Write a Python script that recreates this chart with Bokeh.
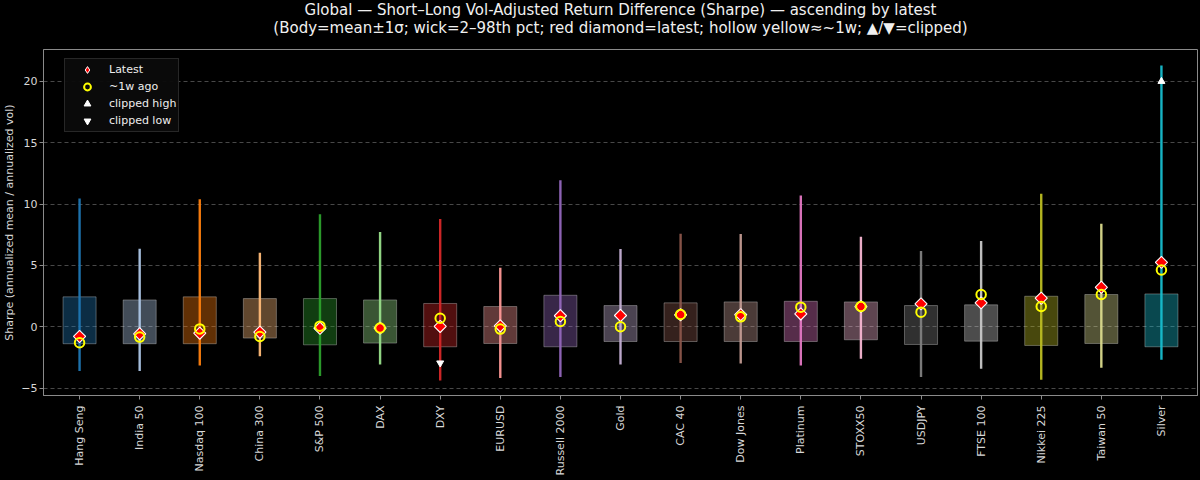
import numpy as np
from bokeh.plotting import figure
from bokeh.models import ColumnDataSource, Range1d, FixedTicker, Title, Legend, LegendItem
from bokeh.embed import file_html
from bokeh.resources import INLINE
from bokeh.core.templates import get_env

# ---------------- data ----------------
names = ["Hang Seng", "India 50", "Nasdaq 100", "China 300", "S&P 500", "DAX", "DXY",
         "EURUSD", "Russell 2000", "Gold", "CAC 40", "Dow Jones", "Platinum", "STOXX50",
         "USDJPY", "FTSE 100", "Nikkei 225", "Taiwan 50", "Silver"]
latest = [-0.79, -0.57, -0.52, -0.44, -0.12, -0.11, 0.03, 0.07, 0.90, 0.92, 0.98, 0.99,
          1.05, 1.65, 1.87, 1.95, 2.33, 3.22, 5.25]
week_ago = [-1.30, -0.84, -0.17, -0.79, 0.05, -0.10, 0.70, -0.19, 0.43, 0.00, 1.00, 0.81,
            1.60, 1.65, 1.19, 2.63, 1.65, 2.63, 4.63]
body_low = [-1.38, -1.38, -1.38, -0.92, -1.47, -1.33, -1.63, -1.36, -1.63, -1.20, -1.20,
            -1.20, -1.20, -1.06, -1.44, -1.17, -1.52, -1.36, -1.63]   # mean - 1 sigma
body_high = [2.44, 2.19, 2.44, 2.30, 2.30, 2.19, 1.90, 1.65, 2.57, 1.73, 1.95, 2.03, 2.08,
             2.03, 1.73, 1.79, 2.49, 2.63, 2.68]                       # mean + 1 sigma
pct2 = [-3.60, -3.60, -3.15, -2.41, -4.01, -3.07, -4.37, -4.18, -4.10, -3.07, -2.96, -3.00,
        -3.15, -2.60, -4.10, -3.42, -4.31, -3.34, -2.69]
pct98 = [10.45, 6.37, 10.40, 6.04, 9.18, 7.72, 8.78, 4.82, 11.95, 6.34, 7.59, 7.56, 10.70,
         7.34, 6.18, 6.99, 10.84, 8.40, 21.30]
clipped_high_names = ["Silver"]
clipped_high_values = [20.0]
clipped_low_names = ["DXY"]
clipped_low_values = [-2.95]
colors = ["#1f77b4", "#aec7e8", "#ff7f0e", "#ffbb78", "#2ca02c", "#98df8a", "#d62728",
          "#ff9896", "#9467bd", "#c5b0d5", "#8c564b", "#c49c94", "#e377c2", "#f7b6d2",
          "#7f7f7f", "#c7c7c7", "#bcbd22", "#dbdb8d", "#17becf"]
y_ticks = [-5, 0, 5, 10, 15, 20]

title_1 = "Global \u2014 Short\u2013Long Vol-Adjusted Return Difference (Sharpe) \u2014 ascending by latest"
title_2 = ("(Body=mean\u00b11\u03c3; wick=2\u201398th pct; red diamond=latest; "
           "hollow yellow\u2248~1w; \u25b2/\u25bc=clipped)")
y_label = "Sharpe (annualized mean / annualized vol)"

FONT = "DejaVu Sans"
TXT = "#d8d8d8"
AX = "#8a8a8a"

xs = np.arange(len(names))
src = ColumnDataSource(dict(x=xs, lo=body_low, hi=body_high, p2=pct2, p98=pct98,
                            latest=latest, week=week_ago, color=colors))

p = figure(width=1200, height=480, output_backend="svg", toolbar_location=None,
           x_range=Range1d(-0.6, len(names) - 0.4), y_range=Range1d(-5.6, 22.6),
           background_fill_color="black", border_fill_color="black",
           min_border_left=0, min_border_right=3, min_border_top=48, min_border_bottom=85)
p.title.text = ""
# spacer panel between the two title lines and the plot frame
p.add_layout(Title(text=" ", text_font=FONT, text_font_size="2px", standoff=9), "above")
for t, so in ((title_2, 0), (title_1, -4)):
    p.add_layout(Title(text=t, align="center", text_font=FONT, text_font_size="15px",
                       text_line_height=1.0, text_font_style="normal",
                       text_color="#f0f0f0", standoff=so, offset=0), "above")

# axes
p.xaxis.ticker = FixedTicker(ticks=[int(i) for i in xs])
p.xaxis.major_label_overrides = {int(i): n for i, n in zip(xs, names)}
p.xaxis.major_label_orientation = np.pi / 2
p.yaxis.ticker = FixedTicker(ticks=y_ticks)
p.yaxis.major_label_overrides = {t: (str(t).replace("-", "\u2212")) for t in y_ticks}
p.yaxis.axis_label = y_label
for ax in (p.xaxis[0], p.yaxis[0]):
    ax.axis_line_color = AX
    ax.major_tick_line_color = AX
    ax.minor_tick_line_color = None
    ax.major_tick_out = 4
    ax.major_tick_in = 0
    ax.major_label_text_color = TXT
    ax.major_label_text_font = FONT
    ax.major_label_text_font_size = "11px"
    ax.major_label_standoff = 2
    ax.axis_label_text_color = TXT
    ax.axis_label_text_font = FONT
    ax.axis_label_text_font_size = "11px"
    ax.axis_label_text_font_style = "normal"
    ax.axis_label_standoff = 2
p.xaxis.major_label_standoff = 6
p.outline_line_color = AX
p.xgrid.grid_line_color = None
p.ygrid.grid_line_color = "#5a5a5a"
p.ygrid.grid_line_dash = "4 3"
p.ygrid.grid_line_width = 0.8

# glyphs
p.vbar(x="x", width=0.55, bottom="lo", top="hi", source=src, fill_color="color",
       fill_alpha=0.38, line_color="#ffffff", line_alpha=0.3, line_width=1)
p.segment(x0="x", y0="p2", x1="x", y1="p98", source=src, line_color="color",
          line_width=2.4, line_alpha=0.95)
hx = [names.index(n) for n in clipped_high_names]
lx = [names.index(n) for n in clipped_low_names]
r_hi = p.scatter(hx, clipped_high_values, marker="triangle", size=7, fill_color="white",
                 line_color="white")
r_lo = p.scatter(lx, clipped_low_values, marker="inverted_triangle", size=7,
                 fill_color="white", line_color="white")
p.scatter("x", "latest", source=src, marker="square", angle=np.pi / 4, size=8.6,
          fill_color="red", line_color="white", line_width=1.1)
r_wk = p.scatter("x", "week", source=src, marker="circle", size=9.5, fill_color=None,
                 line_color="yellow", line_width=2)
# legend-only glyph for the latest marker (no visible point in the plot)
r_lat_leg = p.scatter(x=[np.nan], y=[np.nan], marker="diamond", size=10, fill_color="red",
                      line_color="white", line_width=1.0)

legend = Legend(items=[LegendItem(label="Latest", renderers=[r_lat_leg]),
                       LegendItem(label="~1w ago", renderers=[r_wk]),
                       LegendItem(label="clipped high", renderers=[r_hi]),
                       LegendItem(label="clipped low", renderers=[r_lo])],
                location=(21, 263), orientation="vertical",
                glyph_width=40, glyph_height=17, label_height=17, spacing=0,
                padding=2, margin=0, label_standoff=2,
                label_text_font=FONT, label_text_font_size="11px", label_text_color="#eeeeee",
                background_fill_color="#0b0b0b", background_fill_alpha=0.95,
                border_line_color="#444444", border_line_width=1)
p.add_layout(legend)

template = get_env().from_string("""{% extends "file.html" %}
{% block preamble %}<style>html, body { background: #000000; }</style>{% endblock %}""")
open("out.html", "w").write(file_html(p, INLINE, template=template))
